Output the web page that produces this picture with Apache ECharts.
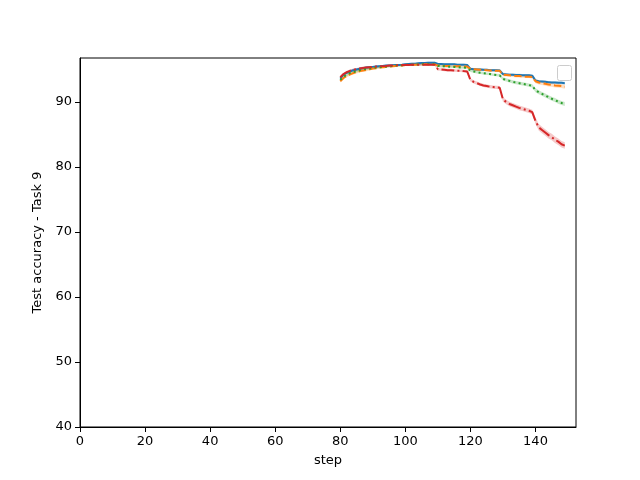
<!DOCTYPE html>
<html>
<head>
<meta charset="utf-8">
<script src="https://cdn.jsdelivr.net/npm/echarts@6/dist/echarts.min.js"></script>
<style>html,body{margin:0;padding:0;background:#fff}#c{width:640px;height:480px}</style>
</head>
<body>
<div id="c"></div>
<script>
var steps = [80,81,82,83,84,85,86,87,88,89,90,91,92,93,94,95,96,97,98,99,100,101,102,103,104,105,106,107,108,109,110,111,112,113,114,115,116,117,118,119,120,121,122,123,124,125,126,127,128,129,130,131,132,133,134,135,136,137,138,139,140,141,142,143,144,145,146,147,148,149];

var blueMean = [93.6,94.2,94.5,94.7,94.9,95.0,95.1,95.2,95.3,95.35,
  95.4,95.45,95.5,95.55,95.6,95.62,95.65,95.68,95.7,95.72,
  95.8,95.85,95.9,95.9,95.95,96.0,96.0,96.05,96.05,96.05,
  95.85,95.85,95.8,95.8,95.8,95.8,95.75,95.75,95.75,95.7,
  95.1,95.05,95.0,95.0,94.95,94.95,94.9,94.9,94.9,94.85,
  94.3,94.25,94.2,94.2,94.15,94.15,94.1,94.1,94.1,94.05,
  93.3,93.2,93.15,93.1,93.05,93.0,93.0,92.95,92.95,92.9];
var orangeMean = [93.2,93.7,94.0,94.25,94.45,94.6,94.75,94.85,94.95,95.05,
  95.15,95.2,95.3,95.35,95.4,95.45,95.5,95.55,95.6,95.62,
  95.7,95.72,95.75,95.75,95.78,95.8,95.8,95.8,95.8,95.8,
  95.6,95.6,95.55,95.55,95.55,95.5,95.5,95.5,95.45,95.45,
  95.1,95.05,95.0,94.95,94.95,94.9,94.85,94.85,94.8,94.8,
  94.2,94.15,94.1,94.05,94.0,94.0,93.95,93.9,93.9,93.85,
  93.2,93.0,92.9,92.8,92.7,92.65,92.55,92.5,92.45,92.35];
var greenMean = [93.4,93.9,94.2,94.45,94.6,94.75,94.9,95.0,95.1,95.15,
  95.25,95.3,95.35,95.4,95.45,95.5,95.55,95.6,95.62,95.65,
  95.7,95.72,95.75,95.75,95.78,95.8,95.8,95.8,95.8,95.8,
  95.55,95.5,95.5,95.45,95.4,95.4,95.35,95.3,95.3,95.25,
  94.8,94.7,94.6,94.5,94.45,94.35,94.3,94.2,94.15,94.1,
  93.55,93.4,93.25,93.1,93.0,92.9,92.8,92.7,92.6,92.5,
  91.8,91.5,91.25,91.0,90.75,90.5,90.3,90.05,89.85,89.7];
var redMean = [93.8,94.3,94.6,94.8,94.95,95.05,95.15,95.25,95.3,95.35,
  95.4,95.45,95.5,95.52,95.55,95.6,95.62,95.65,95.68,95.7,
  95.7,95.7,95.72,95.72,95.72,95.72,95.72,95.72,95.72,95.72,
  95.05,95.0,94.95,94.9,94.9,94.85,94.8,94.8,94.75,94.7,
  93.4,93.1,92.9,92.7,92.55,92.45,92.35,92.3,92.25,92.2,
  90.4,90.0,89.7,89.5,89.3,89.1,88.95,88.8,88.65,88.45,
  87.1,86.1,85.7,85.3,84.9,84.6,84.2,83.9,83.5,83.3];

// std read per 10-step segment (80s,90s,...,140s)
var blueStd   = [0.2,0.15,0.15,0.15,0.18,0.2,0.2];
var orangeStd = [0.2,0.15,0.15,0.15,0.18,0.22,0.3];
var greenStd  = [0.2,0.15,0.15,0.18,0.2,0.25,0.3];
var redStd    = [0.2,0.15,0.15,0.2,0.25,0.35,0.5];

var xTicks = [0,20,40,60,80,100,120,140];
var yTicks = [40,50,60,70,80,90];

var colors = ['#1f77b4','#ff7f0e','#2ca02c','#d62728'];
var means = [blueMean, orangeMean, greenMean, redMean];
var stds = [blueStd, orangeStd, greenStd, redStd];
var dashes = ['solid', [7.4,3.2], [2,3.3], [12.8,3.2,2,3.2]];

function bandSeries(mean, std, color) {
  var data = steps.map(function (s, i) {
    var sd = std[Math.floor(i / 10)];
    return [s, mean[i] - sd, mean[i] + sd];
  });
  return {
    type: 'custom',
    silent: true,
    z: 1,
    data: data,
    encode: {x: 0, y: [1, 2]},
    renderItem: function (params, api) {
      if (params.dataIndex !== 0) return null;
      var pts = [];
      for (var i = 0; i < data.length; i++) pts.push(api.coord([data[i][0], data[i][2]]));
      for (var j = data.length - 1; j >= 0; j--) pts.push(api.coord([data[j][0], data[j][1]]));
      return {
        type: 'polygon',
        shape: {points: pts},
        style: {fill: color, opacity: 0.25}
      };
    }
  };
}

var series = [];
for (var k = 0; k < 4; k++) series.push(bandSeries(means[k], stds[k], colors[k]));
for (var k2 = 0; k2 < 4; k2++) {
  series.push({
    type: 'line',
    z: 3,
    showSymbol: false,
    symbol: 'none',
    silent: true,
    data: steps.map(function (s, i) { return [s, means[k2][i]]; }),
    lineStyle: {color: colors[k2], width: 2, type: dashes[k2]}
  });
}

var chart = echarts.init(document.getElementById('c'), null, {renderer: 'canvas'});
chart.setOption({
  animation: false,
  backgroundColor: '#fff',
  grid: {left: 80, right: 64, top: 58, bottom: 53, show: true, borderColor: '#000', borderWidth: 1, backgroundColor: 'transparent'},
  xAxis: {
    type: 'value', min: 0, max: 152.45,
    name: 'step', nameLocation: 'middle', nameGap: 27,
    nameTextStyle: {fontFamily: 'DejaVu Sans', fontSize: 13, color: '#000'},
    axisLine: {show: true, lineStyle: {color: '#000', width: 1}},
    axisTick: {show: true, length: 5, customValues: xTicks, lineStyle: {color: '#000'}},
    axisLabel: {fontFamily: 'DejaVu Sans', fontSize: 13, color: '#000', margin: 8, customValues: xTicks},
    splitLine: {show: false}
  },
  yAxis: {
    type: 'value', min: 40, max: 96.77,
    name: 'Test accuracy - Task 9', nameLocation: 'middle', nameGap: 34,
    nameTextStyle: {fontFamily: 'DejaVu Sans', fontSize: 13, color: '#000'},
    axisLine: {show: true, lineStyle: {color: '#000', width: 1}},
    axisTick: {show: true, length: 5, customValues: yTicks, lineStyle: {color: '#000'}},
    axisLabel: {fontFamily: 'DejaVu Sans', fontSize: 13, color: '#000', margin: 8, customValues: yTicks},
    splitLine: {show: false}
  },
  graphic: [{
    type: 'rect', left: 557, top: 65, z: 100,
    shape: {width: 14, height: 15, r: 2},
    style: {fill: 'rgba(255,255,255,0.8)', stroke: '#cccccc', lineWidth: 1}
  }],
  series: series
});
</script>
</body>
</html>
